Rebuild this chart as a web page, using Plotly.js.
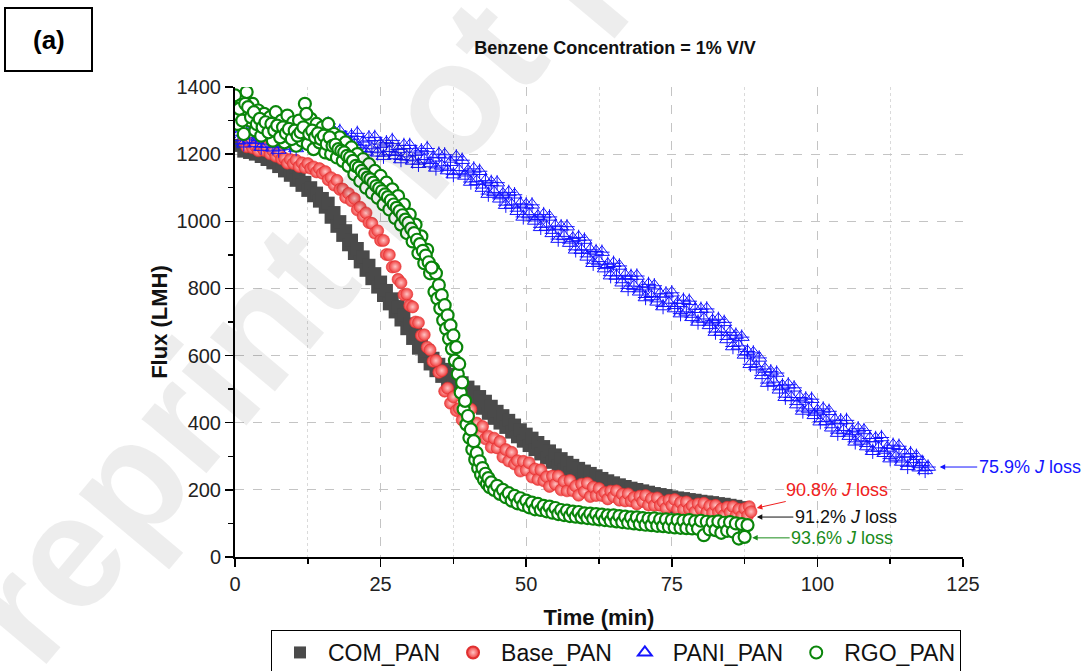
<!DOCTYPE html>
<html>
<head>
<meta charset="utf-8">
<script src="https://cdn.plot.ly/plotly-3.0.1.min.js"></script>
<style>html,body{margin:0;padding:0;background:#fff;}#chart{width:1085px;height:671px;}</style>
</head>
<body>
<div id="chart"></div>
<script>
// ---- data ----
var seriesNames = ['COM_PAN', 'Base_PAN', 'PANI_PAN', 'RGO_PAN'];
var lossLabels = ['91.2% <i>J</i> loss', '90.8% <i>J</i> loss', '75.9% <i>J</i> loss', '93.6% <i>J</i> loss'];

var comT = [1,1.5,2,2.5,3,3.5,4,4.5,5,5.5,
6,6.5,7,7.5,8,8.5,9,9.5,10,10.5,
11,11.5,12,12.5,13,13.5,14,14.5,15,15.5,
16,16.5,17,17.5,18,18.5,19,19.5,20,20.5,
21,21.5,22,22.5,23,23.5,24,24.5,25,25.5,
26,26.5,27,27.5,28,28.5,29,29.5,30,30.5,
31,31.5,32,32.5,33,33.5,34,34.5,35,35.5,
36,36.5,37,37.5,38,38.5,39,39.5,40,40.5,
41,41.5,42,42.5,43,43.5,44,44.5,45,45.5,
46,46.5,47,47.5,48,48.5,49,49.5,50,50.5,
51,51.5,52,52.5,53,53.5,54,54.5,55,55.5,
56,56.5,57,57.5,58,58.5,59,59.5,60,60.5,
61,61.5,62,62.5,63,63.5,64,64.5,65,65.5,
66,66.5,67,67.5,68,68.5,69,69.5,70,70.5,
71,71.5,72,72.5,73,73.5,74,74.5,75,75.5,
76,76.5,77,77.5,78,78.5,79,79.5,80,80.5,
81,81.5,82,82.5,83,83.5,84,84.5,85,85.5,
86,86.5,87,87.5,88];
var comF = [1226,1209,1223,1205,1219,1200,1213,1193,1205,1184,
1196,1174,1185,1163,1173,1150,1160,1137,1146,1122,
1131,1107,1116,1092,1100,1076,1084,1060,1068,1042,
1054,1012,1026,985,999,958,972,930,944,904,
919,879,894,854,869,829,844,804,819,779,
794,754,769,730,746,706,722,680,694,651,
664,622,636,597,614,575,592,555,574,538,
559,523,544,509,531,497,519,484,506,471,
492,457,478,443,464,428,449,413,434,399,
421,386,407,372,393,358,379,345,366,332,
354,320,341,307,329,295,316,282,304,270,
293,260,282,250,273,241,264,232,256,225,
249,218,242,210,234,203,227,196,221,190,
215,185,210,180,205,175,201,171,197,167,
193,163,189,160,186,157,183,153,179,150,
176,148,174,145,171,143,169,140,166,138,
164,136,162,133,159,130,157,128,154,125,
151,122,147,118,140];

var baseT = [1.5,2,2.5,3,3.5,4,4.5,5,5.5,6,
6.5,7,7.5,8,8.5,9,9.5,10,10.5,11,
11.5,12,12.5,13,13.5,14,14.5,15,15.5,16,
16.5,17,17.5,18,18.5,19,19.5,20,20.5,21,
21.5,22,22.5,23,23.5,24,24.5,25,25.5,26,
26.5,27,27.5,28,28.5,29,29.5,30,30.5,31,
31.5,32,32.5,33,33.5,34,34.5,35,35.5,36,
36.5,37,37.5,38,38.5,39,39.5,40,40.5,41,
41.5,42,42.5,43,43.5,44,44.5,45,45.5,46,
46.5,47,47.5,48,48.5,49,49.5,50,50.5,51,
51.5,52,52.5,53,53.5,54,54.5,55,55.5,56,
56.5,57,57.5,58,58.5,59,59.5,60,60.5,61,
61.5,62,62.5,63,63.5,64,64.5,65,65.5,66,
66.5,67,67.5,68,68.5,69,69.5,70,70.5,71,
71.5,72,72.5,73,73.5,74,74.5,75,75.5,76,
76.5,77,77.5,78,78.5,79,79.5,80,80.5,81,
81.5,82,82.5,83,83.5,84,84.5,85,85.5,86,
86.5,87,87.5,88,88.3,88.6];
var baseF = [1238,1222,1233,1219,1224,1210,1222,1211,1221,1201,
1210,1194,1204,1186,1188,1173,1184,1172,1182,1163,
1174,1160,1172,1158,1162,1147,1157,1143,1148,1124,
1130,1108,1122,1095,1096,1071,1083,1061,1068,1034,
1042,1015,1025,996,994,965,972,943,943,901,
900,864,865,827,817,781,783,749,745,700,
698,660,662,625,617,583,585,550,555,494,
503,458,477,436,442,408,435,405,440,378,
399,364,389,352,360,327,354,325,344,298,
320,286,312,277,287,256,285,259,281,238,
262,231,260,227,239,210,241,217,241,200,
226,197,228,197,211,184,217,195,220,180,
208,183,204,183,192,173,196,180,197,169,
187,167,188,167,177,158,181,166,183,155,
174,154,176,154,164,146,169,154,171,143,
162,142,164,143,153,135,158,143,160,133,
152,132,154,133,143,125,148,133,150,123,
142,122,144,123,150,135];

var paniT = [0,0.5,1,1.5,2,2.5,3,3.5,4,4.5,
5,5.5,6,6.5,7,7.5,8,8.5,9,9.5,
10,10.5,11,11.5,12,12.5,13,13.5,14,14.5,
15,15.5,16,16.5,17,17.5,18,18.5,19,19.5,
20,20.5,21,21.5,22,22.5,23,23.5,24,24.5,
25,25.5,26,26.5,27,27.5,28,28.5,29,29.5,
30,30.5,31,31.5,32,32.5,33,33.5,34,34.5,
35,35.5,36,36.5,37,37.5,38,38.5,39,39.5,
40,40.5,41,41.5,42,42.5,43,43.5,44,44.5,
45,45.5,46,46.5,47,47.5,48,48.5,49,49.5,
50,50.5,51,51.5,52,52.5,53,53.5,54,54.5,
55,55.5,56,56.5,57,57.5,58,58.5,59,59.5,
60,60.5,61,61.5,62,62.5,63,63.5,64,64.5,
65,65.5,66,66.5,67,67.5,68,68.5,69,69.5,
70,70.5,71,71.5,72,72.5,73,73.5,74,74.5,
75,75.5,76,76.5,77,77.5,78,78.5,79,79.5,
80,80.5,81,81.5,82,82.5,83,83.5,84,84.5,
85,85.5,86,86.5,87,87.5,88,88.5,89,89.5,
90,90.5,91,91.5,92,92.5,93,93.5,94,94.5,
95,95.5,96,96.5,97,97.5,98,98.5,99,99.5,
100,100.5,101,101.5,102,102.5,103,103.5,104,104.5,
105,105.5,106,106.5,107,107.5,108,108.5,109,109.5,
110,110.5,111,111.5,112,112.5,113,113.5,114,114.5,
115,115.5,116,116.5,117,117.5,118,118.5,119];
var paniF = [1286,1240,1266,1231,1271,1245,1277,1232,1250,1221,
1263,1230,1264,1219,1246,1212,1253,1230,1265,1223,
1244,1217,1262,1232,1269,1227,1256,1223,1266,1242,
1277,1234,1290,1224,1267,1234,1268,1223,1249,1214,
1254,1229,1262,1218,1236,1207,1249,1216,1250,1204,
1230,1194,1234,1208,1241,1196,1214,1184,1226,1192,
1226,1180,1206,1170,1210,1184,1217,1172,1189,1159,
1200,1165,1198,1151,1176,1139,1192,1151,1182,1135,
1150,1117,1156,1119,1149,1099,1121,1081,1116,1086,
1115,1067,1081,1048,1086,1049,1079,1030,1052,1013,
1049,1020,1049,1001,1015,982,1020,983,1013,964,
986,947,984,955,984,935,949,915,952,914,
944,894,915,875,910,880,908,859,872,838,
875,837,867,817,839,800,836,807,837,790,
805,773,812,776,808,760,784,746,784,756,
787,740,756,725,765,730,762,714,738,700,
738,709,739,690,704,670,708,670,699,648,
669,627,661,629,655,602,612,574,608,567,
593,541,560,518,552,521,548,498,510,476,
513,475,504,454,475,435,471,441,470,422,
436,403,441,404,434,385,408,369,406,377,
407,360,375,343,382,346,377,329,353,315,
353,325,356,309,325,293,333,298,330,283,
307,270,308,281,300,266,282,258,268];

var rgoT = [0,0.5,1,1.5,2,2.5,3,3.5,4,4.5,
5,5.5,6,6.5,7,7.5,8,8.5,9,9.5,
10,10.5,11,11.5,12,12.5,13,13.5,14,14.5,
15,15.5,16,16.5,17,17.5,18,18.5,19,19.5,
20,20.5,21,21.5,22,22.5,23,23.5,24,24.5,
25,25.5,26,26.5,27,27.5,28,28.5,29,29.5,
30,30.5,31,31.5,32,32.5,33,33.5,
34,34.25,34.5,34.75,35,35.25,35.5,35.75,36,36.25,
36.5,36.75,37,37.25,37.5,37.75,38,38.25,38.5,38.75,
39,39.25,39.5,39.75,40,40.25,40.5,40.75,41,41.25,
41.5,41.75,42,42.25,42.5,42.75,43,43.25,43.5,43.75,
44,44.5,45,45.5,46,46.5,47,47.5,48,48.5,
49,49.5,50,50.5,51,51.5,52,52.5,53,53.5,
54,54.5,55,55.5,56,56.5,57,57.5,58,58.5,
59,59.5,60,60.5,61,61.5,62,62.5,63,63.5,
64,64.5,65,65.5,66,66.5,67,67.5,68,68.5,
69,69.5,70,70.5,71,71.5,72,72.5,73,73.5,
74,74.5,75,75.5,76,76.5,77,77.5,78,78.5,
79,79.5,80,80.5,81,81.5,82,82.5,83,83.5,
84,84.5,85,85.5,86,86.5,87,87.5,88];
var rgoF = [1375,1290,1345,1260,1385,1300,1350,1270,1330,1255,
1320,1280,1310,1240,1325,1265,1300,1235,1315,1250,
1295,1225,1300,1240,1350,1230,1305,1215,1290,1235,
1280,1205,1290,1200,1260,1190,1250,1180,1235,1165,
1220,1140,1200,1120,1185,1100,1170,1085,1150,1070,
1135,1050,1115,1035,1095,1010,1075,990,1050,965,
1020,940,990,905,955,875,915,845,
860,790,845,770,810,740,780,705,750,680,
720,650,690,620,660,585,625,545,575,490,
520,440,465,395,420,355,380,320,345,290,
310,265,285,245,265,230,248,218,235,208,
222,200,212,188,200,178,190,168,182,160,
175,155,168,148,162,142,158,140,152,136,
150,132,146,128,140,125,138,122,135,120,
134,118,130,116,129,114,128,112,126,110,
124,108,124,106,122,104,120,102,118,100,
118,98,116,96,114,95,115,93,112,92,
112,90,110,88,110,87,108,86,110,85,
106,84,108,65,105,82,104,80,106,72,
102,78,104,76,100,55,98,60,95];
// in-between RGO_PAN readings inside the wide early band
var rgoMidT = [0.25,0.75,1.25,1.75,2.25,2.75,3.25,3.75,4.25,4.75,
5.25,5.75,6.25,6.75,7.25,7.75,8.25,8.75,9.25,9.75,
10.25,10.75,11.25,11.75,12.25,12.75,13.25,13.75,14.25,14.75,
15.25,15.75,16.25,16.75,17.25,17.75,18.25,18.75,19.25,19.75,
20.25,20.75,21.25,21.75,22.25,22.75,23.25,23.75,24.25,24.75,
25.25,25.75,26.25,26.75,27.25,27.75,28.25,28.75,29.25,29.75,
30.25,30.75,31.25,31.75,32.25,32.75,33.25,33.75];
var rgoMidF = [1320,1335,1300,1350,1340,1310,1325,1290,1305,1280,
1295,1265,1290,1270,1285,1250,1280,1262,1275,1245,
1270,1255,1265,1280,1320,1260,1270,1250,1262,1245,
1255,1230,1250,1225,1228,1215,1210,1205,1195,1190,
1180,1165,1160,1150,1140,1130,1125,1115,1105,1098,
1090,1080,1072,1062,1050,1040,1030,1018,1005,995,
978,965,945,932,912,898,878,862];

// end-point arrows of the J-loss labels: [time, flux]
var lossPointT = [89.6, 89.6, 121.0, 88.8];
var lossPointF = [119, 146, 268, 57];

// ---- chart ----
var FONT = 'Liberation Sans, Arial, Helvetica, sans-serif';
var cCOM = '#4a4a4a', cBASE = '#f03c3c', cPANI = '#1414ff', cRGO = '#0a850a';

var traces = [
  {x: comT, y: comF, name: seriesNames[0], type: 'scatter', mode: 'markers',
   marker: {symbol: 'square', size: 13, color: cCOM, line: {width: 0}}},
  {x: baseT, y: baseF, name: seriesNames[1], type: 'scatter', mode: 'markers',
   marker: {symbol: 'circle', size: 12, color: cBASE, gradient: {type: 'radial', color: '#ffc4c4'},
            line: {width: 0.6, color: '#e03030'}}},
  {x: paniT, y: paniF, name: seriesNames[2], type: 'scatter', mode: 'markers',
   marker: {symbol: 'triangle-up-open', size: 13, color: cPANI, line: {width: 1, color: cPANI}}},
  {x: paniT, y: paniF, name: seriesNames[2], type: 'scatter', mode: 'markers', showlegend: false,
   marker: {symbol: 'cross-thin-open', size: 11, color: cPANI, line: {width: 1, color: cPANI}}},
  {x: rgoT.concat(rgoMidT), y: rgoF.concat(rgoMidF), name: seriesNames[3], type: 'scatter', mode: 'markers',
   marker: {symbol: 'circle', size: 12, color: '#ffffff', line: {width: 2.2, color: cRGO}}}
];

var labelColors = ['#111111', '#f02020', '#1414ff', '#1a8c1a'];
var labelAx = [89, 80, 90, 90];
var labelAy = [0, -18, 0, 0];
var annotations = [];
for (var i = 0; i < lossLabels.length; i++) {
  annotations.push({
    x: lossPointT[i], y: lossPointF[i], xref: 'x', yref: 'y',
    text: lossLabels[i], showarrow: true, arrowhead: 2, arrowsize: 1.1, arrowwidth: 1,
    arrowcolor: labelColors[i], ax: labelAx[i], ay: labelAy[i],
    font: {family: FONT, size: 18, color: labelColors[i]}
  });
}
annotations.push({
  x: (577 - 235) / 728, y: (557 + 54) / 470, xref: 'paper', yref: 'paper',
  xanchor: 'center', yanchor: 'middle',
  text: '<b>Preprint not peer reviewed</b>', showarrow: false, textangle: -50,
  font: {family: FONT, size: 160, color: 'rgba(0,0,0,0.07)'}
});
annotations.push({
  x: (48.5 - 235) / 728, y: (557 - 39.5) / 470, xref: 'paper', yref: 'paper',
  xanchor: 'center', yanchor: 'middle',
  text: '<b>(a)</b>', showarrow: false, font: {family: FONT, size: 26, color: '#000'}
});

var layout = {
  width: 1085, height: 671,
  margin: {l: 235, r: 122, t: 87, b: 114, pad: 0, autoexpand: false},
  paper_bgcolor: '#ffffff', plot_bgcolor: '#ffffff',
  font: {family: FONT, color: '#222'},
  title: {text: '<b>Benzene Concentration = 1% V/V</b>', font: {family: FONT, size: 18, color: '#111'},
          x: 615 / 1085, xanchor: 'center', xref: 'container', y: 1 - 48 / 671, yanchor: 'middle', yref: 'container'},
  xaxis: {
    range: [0, 125], tick0: 0, dtick: 25, ticks: 'outside', ticklen: 8, tickwidth: 1.5, tickcolor: '#000',
    showline: true, linecolor: '#000', linewidth: 2, zeroline: false,
    showgrid: true, gridcolor: '#c4c4c4', griddash: 'dash', gridwidth: 1,
    tickfont: {family: FONT, size: 20, color: '#222'},
    minor: {dtick: 12.5, ticks: 'outside', ticklen: 5, tickwidth: 1.5, tickcolor: '#000',
            showgrid: true, gridcolor: '#dadada', griddash: 'dot', gridwidth: 1},
    title: {text: '<b>Time (min)</b>', font: {family: FONT, size: 22, color: '#111'}, standoff: 16},
    automargin: false
  },
  yaxis: {
    range: [0, 1400], tick0: 0, dtick: 200, ticks: 'outside', ticklen: 8, tickwidth: 1.5, tickcolor: '#000',
    showline: true, linecolor: '#000', linewidth: 2, zeroline: false,
    showgrid: true, gridcolor: '#c4c4c4', griddash: 'dash', gridwidth: 1,
    tickfont: {family: FONT, size: 20, color: '#222'},
    minor: {dtick: 100, ticks: 'outside', ticklen: 5, tickwidth: 1.5, tickcolor: '#000', showgrid: false},
    title: {text: '<b>Flux (LMH)</b>', font: {family: FONT, size: 22, color: '#111'}, standoff: 3},
    automargin: false
  },
  legend: {
    orientation: 'h', x: (616 - 235) / 728, xanchor: 'center', y: (557 - 630) / 470, yanchor: 'top',
    bordercolor: '#000', borderwidth: 1, bgcolor: '#fff', itemwidth: 46,
    font: {family: FONT, size: 23, color: '#111'}, itemsizing: 'constant'
  },
  shapes: [{
    type: 'rect', xref: 'paper', yref: 'paper',
    x0: (5 - 235) / 728, x1: (92 - 235) / 728, y0: (557 - 71) / 470, y1: (557 - 8) / 470,
    line: {color: '#000', width: 2}, fillcolor: 'rgba(0,0,0,0)'
  }],
  annotations: annotations
};

Plotly.newPlot('chart', traces, layout, {displayModeBar: false, staticPlot: true});
</script>
</body>
</html>
